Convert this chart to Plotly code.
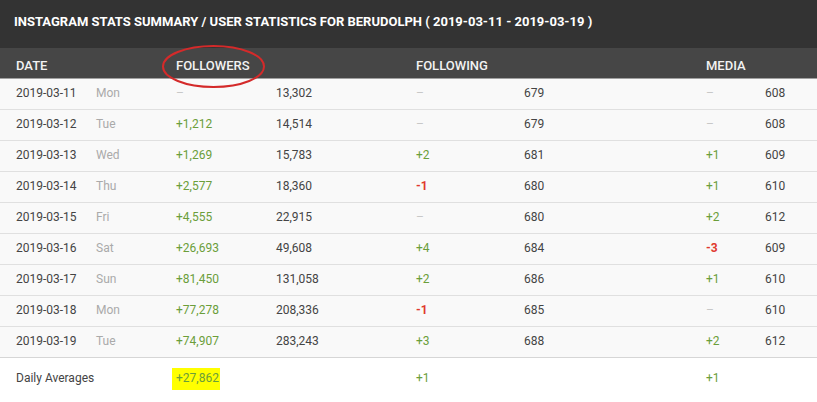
import plotly.graph_objects as go

# Table data
dates = ["2019-03-11", "2019-03-12", "2019-03-13", "2019-03-14", "2019-03-15",
         "2019-03-16", "2019-03-17", "2019-03-18", "2019-03-19"]
days = ["Mon", "Tue", "Wed", "Thu", "Fri", "Sat", "Sun", "Mon", "Tue"]
followers_change = [None, 1212, 1269, 2577, 4555, 26693, 81450, 77278, 74907]
followers = [13302, 14514, 15783, 18360, 22915, 49608, 131058, 208336, 283243]
following_change = [None, None, 2, -1, None, 4, 2, -1, 3]
following = [679, 679, 681, 680, 680, 684, 686, 685, 688]
media_change = [None, None, 1, 1, 2, -3, 1, None, 2]
media = [608, 608, 609, 610, 612, 609, 610, 610, 612]
averages = {"followers": 27862, "following": 1, "media": 1}

title = "INSTAGRAM STATS SUMMARY / USER STATISTICS FOR BERUDOLPH ( 2019-03-11 - 2019-03-19 )"
headers = ["DATE", "FOLLOWERS", "FOLLOWING", "MEDIA"]

# layout constants (pixels on a 0..817 x axis; y axis is row index)
W, H = 817, 402
ROW_H = 31
FIRST_ROW_PX = 94
COLS = {"date": 16, "day": 96, "fol_chg": 176, "fol": 276,
        "fng_chg": 416, "fng": 524, "med_chg": 706, "med": 765}
HEADER_X = [14, 174, 414, 704]

DARK = "#444444"
DAY_GREY = "#aaaaaa"
GREEN = "#6b9e3a"
RED = "#e0392e"
DASH = "#c8c8c8"
FONT = "Roboto"


def px_to_row(p):
    return (p - FIRST_ROW_PX) / ROW_H


rows = list(range(len(dates)))
avg_y = px_to_row(379)


def fmt_change(v):
    if v is None:
        return "–", DASH
    if v < 0:
        return f"<b>{v:,}</b>", RED
    return f"+{v:,}", GREEN


fig = go.Figure()


def text_col(x, values, colors, y=None):
    y = rows if y is None else y
    fig.add_trace(go.Scatter(
        x=[x] * len(values), y=y, text=values, mode="text",
        textposition="middle right",
        textfont=dict(family=FONT, size=12, color=colors),
        hoverinfo="skip", showlegend=False,
    ))


text_col(COLS["date"], dates, DARK)
text_col(COLS["day"], days, DAY_GREY)
for key, chg, tot in [("fol", followers_change, followers),
                      ("fng", following_change, following),
                      ("med", media_change, media)]:
    t, c = zip(*[fmt_change(v) for v in chg])
    text_col(COLS[key + "_chg"], list(t), list(c))
    text_col(COLS[key], [f"{v:,}" for v in tot], DARK)

# daily averages row
text_col(COLS["date"], ["Daily Averages"], DARK, y=[avg_y])
text_col(COLS["fol_chg"], [f"+{averages['followers']:,}"], GREEN, y=[avg_y])
text_col(COLS["fng_chg"], [f"+{averages['following']:,}"], GREEN, y=[avg_y])
text_col(COLS["med_chg"], [f"+{averages['media']:,}"], GREEN, y=[avg_y])

shapes = [
    # title bar and header bar
    dict(type="rect", xref="paper", yref="y", x0=0, x1=1, y0=px_to_row(0), y1=px_to_row(48),
         fillcolor="#333333", line_width=0, layer="below"),
    dict(type="rect", xref="paper", yref="y", x0=0, x1=1, y0=px_to_row(48), y1=px_to_row(79),
         fillcolor="#464646", line_width=0, layer="below"),
    # body rows background
    dict(type="rect", xref="paper", yref="y", x0=0, x1=1, y0=-0.5, y1=len(dates) - 0.5,
         fillcolor="#f9f9f9", line_width=0, layer="below"),
]
for i in rows:
    shapes.append(dict(type="line", xref="paper", yref="y", x0=0, x1=1,
                       y0=i + 0.5, y1=i + 0.5,
                       line=dict(color="#e0e0e0" if i < len(dates) - 1 else "#d6d6d6", width=1),
                       layer="below"))
# yellow highlight behind average followers gain
shapes.append(dict(type="rect", xref="x", yref="y", x0=172, x1=220,
                   y0=avg_y - 11 / ROW_H, y1=avg_y + 11 / ROW_H,
                   fillcolor="#ffff00", line_width=0, layer="below"))
# red hand-drawn circle around FOLLOWERS
shapes.append(dict(type="circle", xref="x", yref="y", x0=163, x1=264,
                   y0=px_to_row(46), y1=px_to_row(87),
                   line=dict(color="#d42a2a", width=2)))

annotations = [dict(text=f"<b>{title}</b>", x=12, y=px_to_row(21), xref="x", yref="y",
                    xanchor="left", yanchor="middle", showarrow=False,
                    font=dict(family=FONT, size=13, color="#ffffff"))]
for hx, h in zip(HEADER_X, headers):
    annotations.append(dict(text=h, x=hx, y=px_to_row(65), xref="x", yref="y",
                            xanchor="left", yanchor="middle", showarrow=False,
                            font=dict(family=FONT, size=13, color="#f2f2f2", weight=500)))

fig.update_layout(
    width=W, height=H, margin=dict(l=0, r=0, t=0, b=0),
    paper_bgcolor="#ffffff", plot_bgcolor="#ffffff",
    xaxis=dict(range=[0, W], visible=False, fixedrange=True),
    yaxis=dict(range=[px_to_row(H), px_to_row(0)], visible=False, fixedrange=True),
    shapes=shapes, annotations=annotations,
)

# drop the browser's default 8px body margin so the table fills the window
fig.write_html("out.html", config={"displayModeBar": False},
               post_script="document.body.style.margin='0';")
